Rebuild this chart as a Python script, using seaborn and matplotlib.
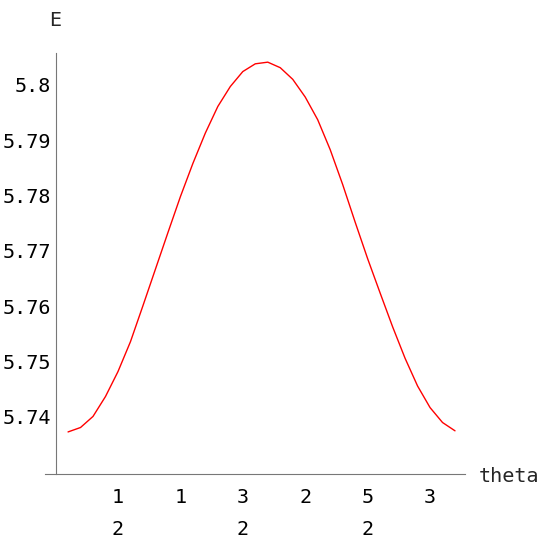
import matplotlib
matplotlib.use("Agg")
import matplotlib.pyplot as plt
import seaborn as sns

# theta values and energy
theta = [0.1, 0.2, 0.3, 0.4, 0.5, 0.6, 0.7, 0.8, 0.9, 1.0,
         1.1, 1.2, 1.3, 1.4, 1.5, 1.6, 1.7, 1.8, 1.9, 2.0,
         2.1, 2.2, 2.3, 2.4, 2.5, 2.6, 2.7, 2.8, 2.9, 3.0,
         3.1, 3.2]
energy = [5.7373, 5.7381, 5.7401, 5.7437, 5.7482, 5.7536, 5.7601, 5.7667, 5.7733, 5.7798,
          5.7858, 5.7913, 5.7961, 5.7997, 5.8024, 5.8038, 5.8041, 5.8031, 5.8010, 5.7978,
          5.7937, 5.7883, 5.7820, 5.7752, 5.7686, 5.7624, 5.7563, 5.7506, 5.7456, 5.7417,
          5.7390, 5.7375]

xticks = [0.5, 1.0, 1.5, 2.0, 2.5, 3.0]
xticklabels = ["1\n2", "1", "3\n2", "2", "5\n2", "3"]
yticks = [5.74, 5.75, 5.76, 5.77, 5.78, 5.79, 5.80]
yticklabels = ["5.74", "5.75", "5.76", "5.77", "5.78", "5.79", "5.8"]


def main():
    sns.set_style("white")
    plt.rcParams['font.family'] = ['DejaVu Sans Mono']

    W = 545.0
    fig = plt.figure(figsize=(5.45, 5.45), dpi=100)
    ax = fig.add_axes([45.2 / W, 1 - 474 / W, (465 - 45.2) / W, (474 - 53.3) / W])

    sns.lineplot(x=theta, y=energy, color='red', linewidth=1.0, ax=ax)

    ax.set_xlim(-0.083, 3.28)
    ax.set_ylim(5.7297, 5.8057)

    axis_col = '#777777'
    for s in ['top', 'right']:
        ax.spines[s].set_visible(False)
    ax.spines['left'].set_position(('data', 0))
    for s in ['left', 'bottom']:
        ax.spines[s].set_color(axis_col)
        ax.spines[s].set_linewidth(0.8)

    ax.set_xticks(xticks)
    ax.set_xticklabels(xticklabels)
    ax.set_yticks(yticks)
    ax.set_yticklabels(yticklabels)
    ax.tick_params(axis='both', direction='in', length=3, width=0.8, color=axis_col,
                   labelsize=14.5, labelcolor='black')
    ax.tick_params(axis='x', pad=10)
    ax.tick_params(axis='y', pad=3)
    for lbl in ax.get_xticklabels():
        lbl.set_linespacing(1.85)
        lbl.set_verticalalignment('top')

    fig.text(55.5 / W, 1 - 20 / W, 'E', ha='center', va='center', fontsize=14.5)
    fig.text(479 / W, 1 - 476 / W, 'theta', ha='left', va='center', fontsize=14.5)

    fig.savefig('out.png', dpi=100)


main()
